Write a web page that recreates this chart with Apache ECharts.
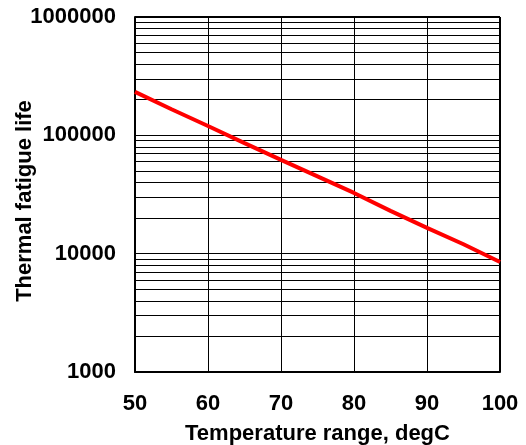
<!DOCTYPE html>
<html>
<head>
<meta charset="utf-8">
<script src="https://cdn.jsdelivr.net/npm/echarts@6/dist/echarts.min.js"></script>
<style>
  html, body { margin: 0; padding: 0; background: #fff; }
  #main { width: 526px; height: 445px; }
</style>
</head>
<body>
<div id="main"></div>
<script>
// temperature range (degC) and thermal fatigue life
var temps = [50, 55, 60, 65, 70, 75, 80, 85, 90, 95, 100];
var lives = [233000, 166000, 120000, 86000, 62000, 45000, 32600, 23000, 16500, 12000, 8500];

// minor horizontal grid lines 2..9 of each decade
var minorLines = [];
[1000, 10000, 100000].forEach(function (d) {
  for (var k = 2; k <= 9; k++) minorLines.push(d * k);
});

var font = 'Liberation Sans, Arial, sans-serif';

var chart = echarts.init(document.getElementById('main'));
chart.setOption({
  animation: false,
  grid: { left: 135, right: 26, top: 17, bottom: 73, outerBoundsMode: 'none', containLabel: false },
  xAxis: {
    type: 'value',
    min: 50,
    max: 100,
    interval: 10,
    name: 'Temperature range, degC',
    nameLocation: 'middle',
    nameGap: 51,
    nameMoveOverlap: false,
    nameTextStyle: { fontFamily: font, fontWeight: 'bold', fontSize: 22, color: '#000' },
    axisLine: { lineStyle: { color: '#000', width: 2 } },
    axisTick: { show: false },
    axisLabel: { fontFamily: font, fontWeight: 'bold', fontSize: 22, color: '#000', margin: 21 },
    splitLine: { show: true, lineStyle: { color: '#000', width: 1 } }
  },
  yAxis: {
    type: 'log',
    logBase: 10,
    min: 1000,
    max: 1000000,
    name: 'Thermal fatigue life',
    nameLocation: 'middle',
    nameRotate: 90,
    nameGap: 99,
    nameMoveOverlap: false,
    nameTextStyle: { fontFamily: font, fontWeight: 'bold', fontSize: 22, color: '#000', padding: [0, 13, 0, 0] },
    axisLine: { lineStyle: { color: '#000', width: 2 } },
    axisTick: { show: false },
    axisLabel: {
      fontFamily: font, fontWeight: 'bold', fontSize: 22, color: '#000', margin: 19,
      formatter: function (v) { return String(v); }
    },
    splitLine: { show: true, lineStyle: { color: '#000', width: 1 } }
  },
  series: [
    {
      type: 'line',
      data: temps.map(function (t, i) { return [t, lives[i]]; }),
      showSymbol: false,
      smooth: false,
      lineStyle: { color: '#ff0000', width: 4 },
      z: 5,
      markLine: {
        silent: true,
        symbol: 'none',
        label: { show: false },
        lineStyle: { color: '#000', width: 1, type: 'solid' },
        data: minorLines.map(function (v) { return { yAxis: v }; })
      }
    },
    {
      // right and top border
      type: 'line',
      data: [],
      markLine: {
        silent: true,
        symbol: 'none',
        label: { show: false },
        lineStyle: { color: '#000', width: 2, type: 'solid' },
        data: [{ xAxis: 100 }, { yAxis: 1000000 }]
      }
    }
  ]
});
</script>
</body>
</html>
